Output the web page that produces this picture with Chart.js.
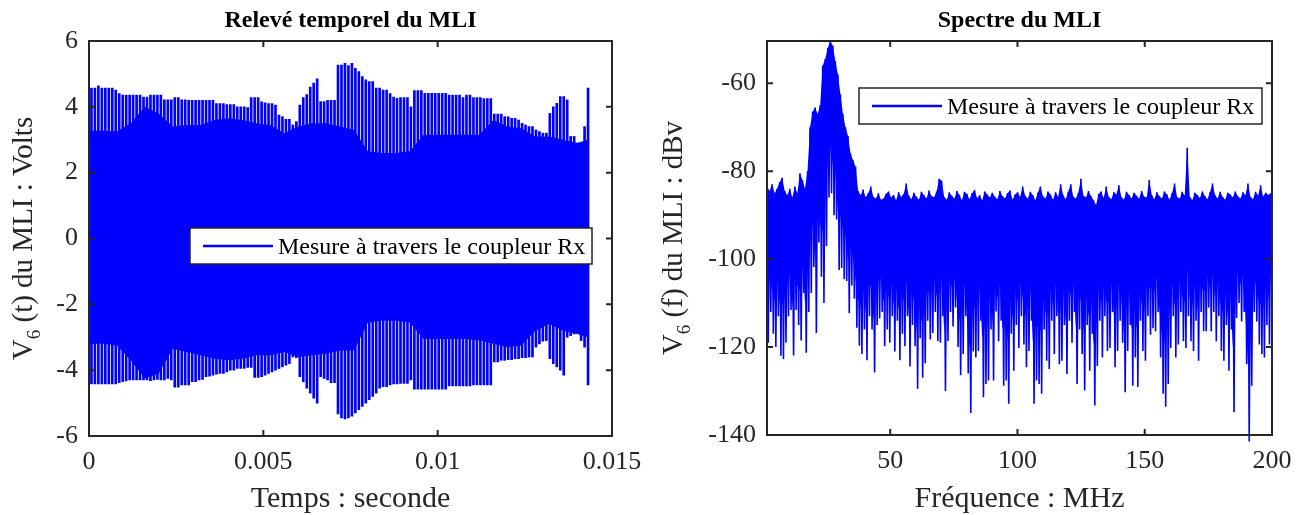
<!DOCTYPE html>
<html><head><meta charset="utf-8">
<script src="https://cdn.jsdelivr.net/npm/chart.js@4.4.1/dist/chart.umd.min.js"></script>
<style>
html,body{margin:0;padding:0;background:#fff;overflow:hidden}
#wrap{position:relative;width:1305px;height:515px}
canvas{position:absolute;left:0;top:0}
</style></head>
<body><div id="wrap"><canvas id="c1" width="1305" height="515"></canvas><canvas id="c2" width="1305" height="515"></canvas></div>
<script>
// ---------- Left panel: time record (PWM) ----------
const timeTitle = 'Relevé temporel du MLI';
const timeXLabel = 'Temps : seconde';
const timeYLabel = ['V', '6', ' (t) du MLI : Volts'];
const timeTicks = [0, 0.005, 0.01, 0.015];
const timeTickLabels = ['0', '0.005', '0.01', '0.015'];
const voltTicks = [-6, -4, -2, 0, 2, 4, 6];
const spikeStart = 0.00007;      // first pulse time (s)
const spikeStep = 0.0000996;     // pulse period (s)
const spikeTop = [
 4.57,4.57,4.64,4.57,4.57,4.57,4.57,4.51,4.40,4.36,
 4.36,4.36,4.36,4.36,4.36,4.30,4.30,4.36,4.36,4.36,
 4.36,4.21,4.21,4.21,4.28,4.28,4.21,4.21,4.20,4.20,
 4.20,4.20,4.20,4.20,4.20,4.20,4.10,4.10,4.10,4.07,
 4.07,4.07,4.00,4.00,4.00,3.98,4.28,4.28,4.28,4.15,
 4.12,4.10,4.10,4.05,3.75,3.70,3.62,3.62,3.45,3.55,
 4.05,4.28,4.37,4.60,4.72,4.85,4.16,4.16,4.20,4.20,
 4.20,5.27,5.27,5.32,5.25,5.32,5.17,5.07,4.92,4.82,
 4.77,4.77,4.57,4.57,4.51,4.51,4.40,4.30,4.26,4.28,
 4.28,4.28,4.00,4.49,4.49,4.49,4.41,4.41,4.41,4.41,
 4.41,4.41,4.41,4.36,4.36,4.36,4.36,4.28,4.36,4.36,
 4.28,4.28,4.28,4.25,4.25,4.25,3.78,3.78,3.78,3.70,
 3.70,3.65,3.65,3.60,3.50,3.45,3.40,3.40,3.30,3.25,
 3.20,3.20,3.80,4.00,4.11,4.31,4.31,4.21,3.10,3.10,
 2.90,2.90,3.40,4.57];
const spikeBot = [
 -4.42,-4.42,-4.42,-4.42,-4.42,-4.42,-4.42,-4.42,-4.38,-4.35,
 -4.33,-4.30,-4.30,-4.30,-4.30,-4.30,-4.30,-4.32,-4.30,-4.28,
 -4.30,-4.30,-4.25,-4.30,-4.52,-4.52,-4.45,-4.45,-4.45,-4.35,
 -4.35,-4.30,-4.28,-4.20,-4.18,-4.15,-4.12,-4.10,-4.10,-4.05,
 -4.00,-4.00,-3.95,-3.95,-3.95,-3.92,-3.92,-4.22,-4.22,-4.20,
 -4.15,-4.10,-4.05,-4.00,-3.95,-3.90,-3.85,-3.80,-3.60,-3.62,
 -4.20,-4.35,-4.55,-4.70,-4.85,-5.00,-4.20,-4.25,-4.30,-4.38,
 -4.38,-5.33,-5.45,-5.48,-5.45,-5.40,-5.30,-5.20,-5.10,-5.00,
 -4.90,-4.80,-4.70,-4.55,-4.50,-4.50,-4.45,-4.42,-4.42,-4.40,
 -4.40,-4.40,-4.30,-4.58,-4.58,-4.58,-4.58,-4.58,-4.58,-4.58,
 -4.58,-4.58,-4.58,-4.48,-4.48,-4.48,-4.48,-4.48,-4.48,-4.48,
 -4.45,-4.45,-4.45,-4.45,-4.45,-4.45,-3.75,-3.75,-3.70,-3.70,
 -3.68,-3.68,-3.65,-3.65,-3.62,-3.62,-3.60,-3.60,-3.30,-3.20,
 -3.12,-3.10,-3.65,-3.80,-3.90,-4.00,-4.15,-3.00,-2.95,-2.90,
 -2.80,-3.10,-3.30,-4.45];
// dense core of the PWM signal, sampled every 0.4 ms (+ last sample)
const coreStep = 0.0004;
const coreEnd = 0.01431;
const coreTop = [3.27,3.27,3.25,3.50,4.00,3.80,3.40,3.45,3.45,3.60,
 3.65,3.60,3.50,3.45,3.20,3.40,3.50,3.50,3.40,3.30,
 2.65,2.60,2.60,2.65,3.15,3.15,3.15,3.15,3.15,3.60,
 3.40,3.35,3.10,3.10,3.00,2.90,3.00];
const coreBot = [-3.20,-3.20,-3.25,-3.70,-4.25,-4.10,-3.35,-3.45,-3.55,-3.65,
 -3.70,-3.65,-3.55,-3.55,-3.45,-3.60,-3.55,-3.50,-3.40,-3.40,
 -2.55,-2.50,-2.50,-2.55,-3.05,-3.05,-3.05,-3.05,-3.10,-3.20,
 -3.30,-3.25,-2.80,-2.60,-2.80,-2.90,-3.00];

// ---------- Right panel: spectrum ----------
const specTitle = 'Spectre du MLI';
const specXLabel = 'Fréquence : MHz';
const specYLabel = ['V', '6', ' (f) du MLI : dBv'];
const freqTicks = [50, 100, 150, 200];
const dbTicks = [-140, -120, -100, -80, -60];
const specStart = 1.6, specEnd = 200;   // MHz
const specSolidFraction = 0.7;          // share of each swing that renders as solid ink
const specHi = [
 -83.5,-84.5,-83.0,-85.0,-84.0,-82.5,-81.5,-84.5,-85.5,-84.0,
 -86.0,-83.5,-85.0,-80.5,-82.0,-84.0,-80.0,-70.0,-66.5,-65.5,
 -67.0,-65.0,-56.0,-54.5,-52.0,-50.4,-51.5,-55.0,-58.0,-62.5,
 -67.0,-70.0,-72.0,-76.0,-77.5,-79.0,-84.5,-85.5,-84.2,-86.0,
 -85.0,-83.5,-85.8,-86.3,-85.0,-86.5,-86.3,-85.2,-84.6,-86.0,
 -85.4,-86.6,-84.8,-85.9,-85.2,-82.8,-85.6,-86.4,-84.9,-85.8,
 -86.5,-84.7,-85.5,-86.2,-84.4,-85.7,-86.0,-84.6,-81.7,-82.2,
 -85.9,-86.5,-84.8,-85.6,-86.3,-84.5,-85.4,-86.6,-84.7,-85.2,
 -86.4,-85.0,-84.3,-86.1,-85.5,-86.7,-84.6,-85.3,-86.0,-84.9,
 -85.8,-86.4,-84.5,-85.7,-86.2,-85.0,-84.4,-86.5,-85.3,-84.8,
 -85.9,-83.5,-85.6,-86.3,-84.7,-85.4,-86.6,-84.9,-83.5,-85.7,
 -86.2,-84.6,-85.3,-86.5,-84.8,-85.9,-83.0,-85.5,-86.4,-84.7,
 -83.0,-85.8,-86.3,-84.9,-81.7,-85.6,-86.0,-84.5,-85.7,-86.6,
 -87.7,-85.2,-84.6,-86.1,-83.5,-85.8,-86.4,-84.8,-85.3,-83.2,
 -85.9,-86.5,-84.7,-85.4,-86.2,-84.9,-85.6,-86.3,-84.5,-85.8,
 -86.0,-82.0,-85.5,-86.4,-84.8,-85.7,-86.2,-84.6,-85.3,-86.5,
 -85.0,-82.8,-85.9,-86.3,-84.7,-85.6,-74.7,-85.8,-86.6,-84.9,
 -85.4,-86.1,-84.6,-85.7,-86.4,-84.8,-82.8,-85.5,-86.2,-84.7,
 -85.9,-86.5,-84.9,-85.3,-86.0,-84.6,-85.7,-86.3,-84.8,-85.5,
 -82.8,-85.9,-86.4,-84.7,-85.6,-83.2,-85.8,-84.9,-85.4,-85.0];
const specLo = [
 -119,-112,-117,-120,-113,-122,-122.7,-119,-113,-111.6,
 -121.9,-111.6,-115,-118.5,-107.7,-121.3,-112,-107.7,-101.8,-116.8,
 -96.2,-104,-110,-97,-86,-85,-90,-91,-102.5,-102,
 -104.6,-105,-112.3,-106,-109,-115.6,-119.7,-121.6,-116,-123,
 -113,-116,-125.8,-115,-113.5,-112,-119.8,-116,-119,-113,
 -121,-114,-123,-117,-119.8,-113,-124.4,-115,-119.8,-129.5,
 -118,-127,-123.7,-114,-118.3,-116.8,-112,-118.6,-119,-113,
 -130,-118.6,-112,-115.3,-111,-120,-126.4,-121.6,-113,-126,
 -135,-121,-122.4,-120.9,-114,-131.4,-128.4,-127.6,-116,-127.6,
 -111.9,-118.7,-114,-128.8,-127.6,-132.9,-117,-125.4,-115,-120.2,
 -113,-119.4,-124.6,-120.9,-114,-132.9,-127.6,-128.4,-130.6,-116,
 -123.1,-125,-114,-121.6,-113,-123.9,-123.1,-115,-126.1,-114,
 -119,-112,-128.4,-116,-121.6,-129.9,-115,-125.4,-117,-133.3,
 -124.3,-114,-122.4,-113,-120.9,-120.2,-112,-124.6,-120.9,-114,
 -119,-130.3,-120.9,-115,-128.8,-122.4,-129.1,-114,-120.9,-123.1,
 -113,-117.2,-115.7,-116.4,-112,-122.4,-130.6,-133.6,-128.4,-120.2,
 -113,-122.4,-119.4,-112,-118.7,-120.2,-113,-118.7,-120.9,-114,
 -123.1,-112,-116.4,-116.4,-111,-116.4,-112,-118.7,-113,-120.9,
 -123.1,-115,-125.4,-116,-134.8,-113.4,-110,-114.2,-112,-123.9,
 -141.5,-128.8,-112,-114.2,-119.4,-121.6,-122.4,-115,-119.4,-110.4];

const legendText = 'Mesure à travers le coupleur Rx';
const BLUE = '#0000ff';
const AXC = '#262626';
const SERIF = '"Liberation Serif", "Times New Roman", serif';

// ---------- build library datasets from the arrays ----------
const spikeData = spikeTop.map((v, i) => ({x: spikeStart + i * spikeStep, y: [spikeBot[i], v]}));
const coreX = coreTop.map((v, k) => (k === coreTop.length - 1 ? coreEnd : k * coreStep));
const coreTopData = coreTop.map((v, k) => ({x: coreX[k], y: v}));
const coreBotData = coreBot.map((v, k) => ({x: coreX[k], y: v}));

const specN = specHi.length;
const halfStep = (specEnd - specStart) / (2 * specN - 1);
const specData = [], specTopData = [], specBaseData = [];
specHi.forEach((v, i) => {
  const xh = specStart + 2 * i * halfStep, xl = specStart + (2 * i + 1) * halfStep;
  specData.push({x: xh, y: v});
  specData.push({x: xl, y: specLo[i]});
  specTopData.push({x: xh, y: v});
  specBaseData.push({x: xh, y: v + specSolidFraction * (specLo[i] - v)});
});

function decor(cfg) {
  return {
    id: 'decor' + cfg.key,
    afterDatasetsDraw(chart) {
      const ctx = chart.ctx, a = chart.chartArea, xs = chart.scales.x, ys = chart.scales.y;
      ctx.save();
      // axes box + inward ticks
      ctx.strokeStyle = AXC; ctx.lineWidth = 2;
      ctx.strokeRect(a.left, a.top, a.right - a.left, a.bottom - a.top);
      ctx.beginPath();
      cfg.xTicks.forEach(v => { const p = xs.getPixelForValue(v);
        ctx.moveTo(p, a.bottom); ctx.lineTo(p, a.bottom - 6);
        ctx.moveTo(p, a.top); ctx.lineTo(p, a.top + 6); });
      cfg.yTicks.forEach(v => { const p = ys.getPixelForValue(v);
        ctx.moveTo(a.left, p); ctx.lineTo(a.left + 6, p);
        ctx.moveTo(a.right, p); ctx.lineTo(a.right - 6, p); });
      ctx.stroke();
      // legend
      const L = cfg.legend;
      ctx.fillStyle = '#fff';
      ctx.fillRect(L.x, L.y, L.w, L.h);
      ctx.lineWidth = 1.5; ctx.strokeStyle = AXC;
      ctx.strokeRect(L.x, L.y, L.w, L.h);
      ctx.strokeStyle = BLUE; ctx.lineWidth = 2.5;
      ctx.beginPath(); ctx.moveTo(L.x + 13, L.y + L.h / 2); ctx.lineTo(L.x + 83, L.y + L.h / 2); ctx.stroke();
      ctx.fillStyle = '#000'; ctx.font = '24px ' + SERIF; ctx.textAlign = 'left'; ctx.textBaseline = 'alphabetic';
      ctx.fillText(legendText, L.x + 88, L.y + L.h / 2 + 8);
      // title
      const cx = (a.left + a.right) / 2;
      ctx.textAlign = 'center';
      ctx.font = 'bold 24px ' + SERIF; ctx.fillStyle = '#000';
      ctx.fillText(cfg.title, cx, 27);
      // x label
      ctx.font = '30px ' + SERIF; ctx.fillStyle = AXC;
      ctx.fillText(cfg.xlabel, cx, 507);
      // y label with subscript
      const [main, sub, rest] = cfg.ylabel;
      ctx.translate(cfg.ylabelX, (a.top + a.bottom) / 2);
      ctx.rotate(-Math.PI / 2);
      ctx.textAlign = 'left';
      ctx.font = '29px ' + SERIF; const w1 = ctx.measureText(main).width, w3 = ctx.measureText(rest).width;
      ctx.font = '19px ' + SERIF; const w2 = ctx.measureText(sub).width;
      let x0 = -(w1 + w2 + w3) / 2;
      ctx.font = '29px ' + SERIF; ctx.fillText(main, x0, 0); x0 += w1;
      ctx.font = '19px ' + SERIF; ctx.fillText(sub, x0, 8); x0 += w2;
      ctx.font = '29px ' + SERIF; ctx.fillText(rest, x0, 0);
      ctx.restore();
    }
  };
}

const tickFont = {family: SERIF, size: 26};

new Chart(document.getElementById('c1'), {
  type: 'bar',
  data: {datasets: [
    {type: 'line', data: coreTopData, borderWidth: 0, pointRadius: 0, backgroundColor: BLUE, fill: '+1', tension: 0, order: 2},
    {type: 'line', data: coreBotData, borderWidth: 0, pointRadius: 0, fill: false, tension: 0, order: 3},
    {type: 'bar', data: spikeData, backgroundColor: BLUE, borderWidth: 0, barThickness: 2, order: 1}
  ]},
  options: {
    responsive: false, animation: false, devicePixelRatio: 1,
    layout: {padding: {left: 0, right: 1305 - 612, top: 41, bottom: 0}},
    plugins: {legend: {display: false}, tooltip: {enabled: false}, title: {display: false}},
    scales: {
      x: {type: 'linear', min: 0, max: 0.015, offset: false,
          grid: {display: false, drawTicks: false}, border: {display: false},
          afterBuildTicks: s => { s.ticks = timeTicks.map(v => ({value: v})); },
          afterFit: s => { s.height = 79; },
          ticks: {font: tickFont, color: AXC, padding: 11, maxRotation: 0, autoSkip: false,
                  callback: v => timeTickLabels[timeTicks.indexOf(v)]}},
      y: {type: 'linear', min: -6, max: 6,
          grid: {display: false, drawTicks: false}, border: {display: false},
          afterBuildTicks: s => { s.ticks = voltTicks.map(v => ({value: v})); },
          afterFit: s => { s.width = 89; },
          ticks: {font: tickFont, color: AXC, padding: 11, autoSkip: false, callback: v => String(v)}}
    }
  },
  plugins: [decor({key: 1, xTicks: timeTicks, yTicks: voltTicks, title: timeTitle, xlabel: timeXLabel,
                   ylabel: timeYLabel, ylabelX: 32, legend: {x: 190, y: 228, w: 402, h: 36}})]
});

new Chart(document.getElementById('c2'), {
  type: 'line',
  data: {datasets: [
    {data: specTopData, borderWidth: 0, pointRadius: 0, tension: 0, backgroundColor: BLUE, fill: '+1', order: 2},
    {data: specBaseData, borderWidth: 0, pointRadius: 0, tension: 0, fill: false, order: 3},
    {data: specData, borderColor: BLUE, borderWidth: 1.6, pointRadius: 0, tension: 0.000001,
     capBezierPoints: false, fill: false, order: 1,
     clip: {left: 1, top: 1, right: 1, bottom: 10}}
  ]},
  options: {
    responsive: false, animation: false, devicePixelRatio: 1,
    layout: {padding: {left: 667, right: 1305 - 1272, top: 41, bottom: 0}},
    plugins: {legend: {display: false}, tooltip: {enabled: false}, title: {display: false}},
    scales: {
      x: {type: 'linear', min: specStart, max: specEnd, offset: false,
          grid: {display: false, drawTicks: false}, border: {display: false},
          afterBuildTicks: s => { s.ticks = freqTicks.map(v => ({value: v})); },
          afterFit: s => { s.height = 80; },
          ticks: {font: tickFont, color: AXC, padding: 11, maxRotation: 0, autoSkip: false, callback: v => String(v)}},
      y: {type: 'linear', min: -140, max: -50.4,
          grid: {display: false, drawTicks: false}, border: {display: false},
          afterBuildTicks: s => { s.ticks = dbTicks.map(v => ({value: v})); },
          afterFit: s => { s.width = 100; },
          ticks: {font: tickFont, color: AXC, padding: 11, autoSkip: false, callback: v => String(v)}}
    }
  },
  plugins: [decor({key: 2, xTicks: freqTicks, yTicks: dbTicks, title: specTitle, xlabel: specXLabel,
                   ylabel: specYLabel, ylabelX: 682, legend: {x: 859, y: 88, w: 403, h: 36}})]
});
</script>
</body></html>
